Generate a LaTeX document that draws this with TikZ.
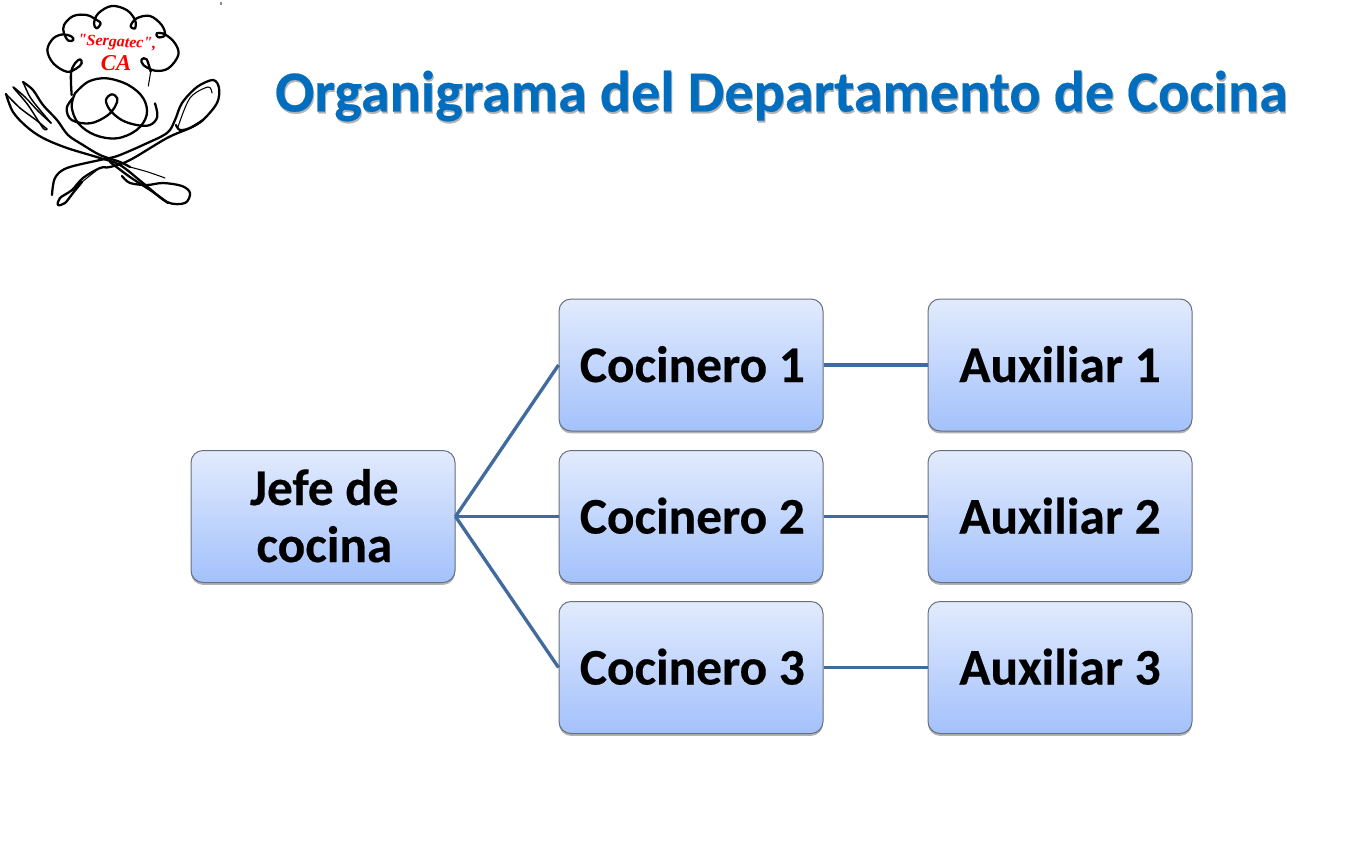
\documentclass[tikz,border=0pt]{standalone}
\usepackage{fontspec}
\setmainfont{Carlito}[BoldFeatures={FakeBold=0.35}]
\newfontfamily\logofont{Liberation Serif}
\usetikzlibrary{shadows}
\definecolor{boxtop}{RGB}{226,235,253}
\definecolor{boxbot}{RGB}{163,193,252}
\definecolor{boxline}{RGB}{105,112,125}
\definecolor{linkblue}{RGB}{65,106,158}
\definecolor{titleblue}{RGB}{0,109,190}
\newcommand{\boxline}[2][0pt]{\hspace*{#1}\raisebox{1.5pt}{#2}}
\tikzset{
  px/.style={x=0.75pt,y=-0.75pt},
  orgbox/.style={draw=boxline,line width=0.75pt,rounded corners=9pt,
    minimum width=198pt,minimum height=99pt,inner sep=0pt,
    top color=boxtop,bottom color=boxbot,text=black,align=center,
    font=\fontsize{38.5}{42.75}\selectfont\bfseries,
    general shadow={shadow yshift=-1.8pt,shadow xshift=0pt,fill=black,opacity=.3}},
  link/.style={draw=linkblue,line width=2.5pt},
  titletext/.style={font=\fontsize{43.6}{48}\selectfont\bfseries,inner sep=0pt},
  logoline/.style={draw=black,line width=1.7pt,line cap=round,line join=round},
  logomid/.style={draw=black,line width=1.1pt,line cap=round,line join=round},
  logothin/.style={draw=black,line width=0.8pt,line cap=round,line join=round},
}
\begin{document}
\begin{tikzpicture}[px]
\useasboundingbox (0,0) rectangle (1346,851);
\fill[white] (0,0) rectangle (1346,851);
% title
\node[titletext,text=black!30] (titleshadow) at (782.5,98) {Organigrama del Departamento de Cocina};
\node[titletext,text=titleblue] (title) at (781.5,96) {Organigrama del Departamento de Cocina};
% boxes
\node[orgbox] (jefe) at (323,516.5) {\boxline[2pt]{Jefe de}\\\boxline[2pt]{cocina}};
\node[orgbox] (c1) at (691,365) {\boxline[2pt]{Cocinero 1}};
\node[orgbox] (c2) at (691,516.5) {\boxline[2pt]{Cocinero 2}};
\node[orgbox] (c3) at (691,667.5) {\boxline[2pt]{Cocinero 3}};
\node[orgbox] (a1) at (1060,365) {\boxline{Auxiliar 1}};
\node[orgbox] (a2) at (1060,516.5) {\boxline{Auxiliar 2}};
\node[orgbox] (a3) at (1060,667.5) {\boxline{Auxiliar 3}};
% connectors
\draw[link] (jefe.east) -- (c1.west);
\draw[link] (jefe.east) -- (c2.west);
\draw[link] (jefe.east) -- (c3.west);
\draw[link] (c1.east) -- (a1.west);
\draw[link] (c2.east) -- (a2.west);
\draw[link] (c3.east) -- (a3.west);
% logo
\fill[black!45] (220,2) rectangle (222,5);
% hat (coordinates of a 3x enlargement, shifted)
\begin{scope}[x=0.25pt,y=-0.25pt,shift={(120,0)}]
\draw[logoline] plot[smooth,tension=.6] coordinates {(95,285)(93,220)(105,190)(120,178)(125,190)(110,205)(80,215)(40,190)(22,150)(40,115)(70,103)(95,110)(100,120)(85,122)(72,100)(72,75)(100,48)(140,45)(170,60)(182,70)(170,85)(162,70)(175,40)(215,18)(260,30)(285,60)(285,85)(272,78)(290,55)(330,48)(365,75)(375,105)(355,112)(350,100)(375,103)(405,130)(415,165)(385,205)(345,212)(310,195)(305,178)(320,178)(332,215)};
\draw[logothin] plot[smooth,tension=.6] coordinates {(332,215)(325,258)};
\end{scope}
% face (coordinates of a 3x enlargement)
\begin{scope}[x=0.25pt,y=-0.25pt]
\draw[logoline] plot[smooth,tension=.6] coordinates {(225,280)(265,245)(320,235)(385,255)(430,295)(440,345)(410,390)(350,415)(285,405)(235,370)(215,320)(225,280)};
\draw[logoline] plot[smooth,tension=.6] coordinates {(218,295)(200,325)(215,360)(270,370)(320,348)(345,320)(352,295)(335,283)(318,300)(330,330)(365,360)(410,375)(450,375)(472,350)(465,310)};
\end{scope}
% fork
\draw[logoline] plot[smooth,tension=.55] coordinates {(6,94)(13,112)(27,127)(43,138)(67,148)(100,158)(120,165)(143,183)(167,202)(185,203)(190,193)(182,186)(163,183)(147,185)(130,183)(122,176)};
\draw[logomid] plot[smooth,tension=.5] coordinates {(6,94)(20,108)(36,120)(47,129)};
\draw[logomid] plot[smooth,tension=.5] coordinates {(47,129)(43,128)(28,105)(13,87)(25,97)(38,111)(51,123)};
\draw[logomid] plot[smooth,tension=.5] coordinates {(51,123)(40,110)(30,97)(23,82)};
\draw[logoline] plot[smooth,tension=.55] coordinates {(23,82)(33,90)(43,105)(57,120)(68,135)(83,145)(100,155)(120,162)(130,167)};
\draw[logothin] plot[smooth,tension=.55] coordinates {(130,167)(148,172)(165,178)};
% spoon
\draw[logoline] plot[smooth,tension=.55] coordinates {(52,195)(55,178)(67,168)(100,160)(110,158)(120,155)(143,145)(167,133)(175,120)(182,103)(197,87)(213,80)(219,88)(217,103)(203,120)(190,128)(180,130)(176,125)};
\draw[logothin] plot[smooth,tension=.55] coordinates {(178,127)(190,98)(208,87)(212,93)};
\draw[logoline] plot[smooth,tension=.55] coordinates {(203,120)(190,128)(167,138)(130,160)(110,167)(100,168)(83,178)(72,190)(60,198)(58,205)(65,203)(73,193)(82,182)};
\draw[logothin] plot[smooth,tension=.55] coordinates {(82,182)(97,170)};
\draw[logoline] plot[smooth,tension=.55] coordinates {(110,162)(130,177)(153,192)(168,203)};
\node[text=red,font=\logofont\fontsize{12}{14}\selectfont\bfseries\itshape,rotate=-3,inner sep=0pt] (logoa) at (117,43) {"Sergatec",};
\node[text=red,font=\logofont\fontsize{17}{18}\selectfont\bfseries\itshape,inner sep=0pt] (logob) at (116,63) {CA};
\end{tikzpicture}
\end{document}
